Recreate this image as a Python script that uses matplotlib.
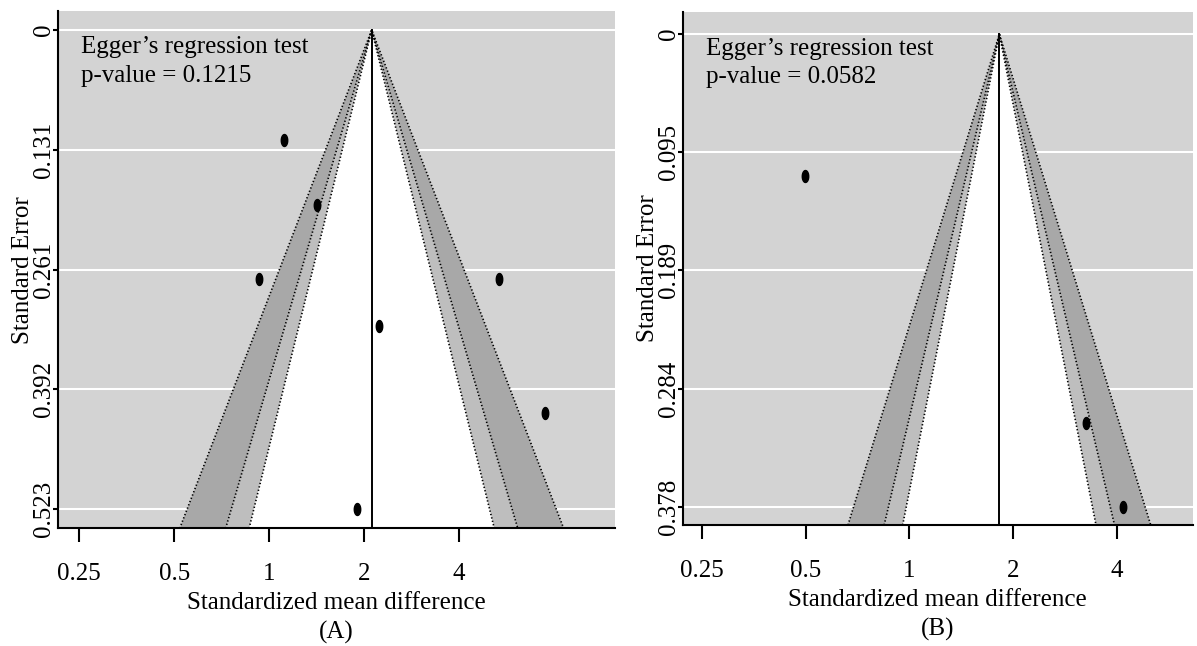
import numpy as np
import matplotlib
matplotlib.use("Agg")
import matplotlib.pyplot as plt
from matplotlib.path import Path

plt.rcParams['font.family'] = ['Liberation Serif', 'DejaVu Serif']
FS = 18

# ---------------- data ----------------
xtick_vals = [0.25, 0.5, 1, 2, 4]
xtick_labels = ["0.25", "0.5", "1", "2", "4"]

a_smd = [1.110, 1.419, 0.929, 5.33, 2.222, 7.50, 1.901]
a_se = [0.1204, 0.1906, 0.2720, 0.2720, 0.3230, 0.4176, 0.523]
a_est = 2.112
a_pval = "0.1215"
a_yticklabels = ["0", "0.131", "0.261", "0.392", "0.523"]
a_panel = "(A)"

b_smd = [0.498, 3.247, 4.17]
b_se = [0.1136, 0.311, 0.378]
b_est = 1.823
b_pval = "0.0582"
b_yticklabels = ["0", "0.095", "0.189", "0.284", "0.378"]
b_panel = "(B)"

z_levels = [2.576, 1.960, 1.645]          # 99%, 95%, 90%
z_colors = ['#a8a8a8', '#bebebe', 'white']
bg_color = '#d3d3d3'

# ---------------- figure ----------------
W, H = 1197, 646
fig = plt.figure(figsize=(W / 100, H / 100), dpi=100)

theta = np.linspace(0, 2 * np.pi, 60)
ell = Path(np.column_stack([0.27 * np.cos(theta), 0.5 * np.sin(theta)]))


def panel(rect_px, smd, se, est, pval, yticklabels, tag, xlim, ylim_ext):
    l, t, r, b = rect_px
    ax = fig.add_axes([l / W, 1 - b / H, (r - l) / W, (b - t) / H])
    wpx, hpx = r - l, b - t
    ax.set_facecolor(bg_color)
    ax.set_xscale('log', base=2)
    maxse = max(se)
    ytop = -ylim_ext[0] * maxse
    ybot = maxse * (1 + ylim_ext[1])
    ax.set_xlim(*xlim)
    ax.set_ylim(ybot, ytop)

    # funnel contours
    for z, c in zip(z_levels, z_colors):
        lo = est * np.exp(-z * ybot)
        hi = est * np.exp(z * ybot)
        ax.fill([est, lo, hi], [0, ybot, ybot], color=c, lw=0, zorder=1)
    for z in z_levels:
        lo = est * np.exp(-z * ybot)
        hi = est * np.exp(z * ybot)
        ax.plot([lo, est, hi], [ybot, 0, ybot], color='black', lw=1.2,
                ls=(0, (0.8, 1.3)), zorder=2)
    ax.plot([est, est], [0, ybot], color='black', lw=1.4, zorder=3)

    ax.plot(smd, se, ls='none', marker=ell, ms=8.6, color='black', zorder=4)

    # axes styling
    ax.set_axisbelow(True)
    yt = np.linspace(0, maxse, 5)
    ax.set_yticks(yt, yticklabels, rotation=90, va='center', fontsize=FS)
    ax.set_xticks(xtick_vals, xtick_labels, fontsize=FS)
    ax.minorticks_off()
    ax.grid(axis='y', color='white', lw=1.5)
    ax.grid(axis='x', visible=False)
    for s in ['top', 'right']:
        ax.spines[s].set_visible(False)
    for s in ['left', 'bottom']:
        ax.spines[s].set_linewidth(1.5)
    ax.tick_params(axis='x', length=10, width=1.5, pad=15)
    ax.tick_params(axis='y', length=3.3, width=1.5, pad=-0.9)

    ax.set_ylabel("Standard Error", fontsize=FS)
    ax.yaxis.set_label_coords(-24.5 / wpx, 0.5)
    ax.set_xlabel("Standardized mean difference", fontsize=FS)
    ax.xaxis.set_label_coords(0.5, -63.5 / hpx)
    ax.text(0.5, -110.5 / hpx, tag, transform=ax.transAxes, ha='center',
            va='baseline', fontsize=FS)

    ax.text(23.0 / wpx, 1 - 42.5 / hpx, "Egger\u2019s regression test",
            transform=ax.transAxes, ha='left', va='baseline', fontsize=FS)
    ax.text(23.0 / wpx, 1 - 71.0 / hpx, "p-value = " + pval,
            transform=ax.transAxes, ha='left', va='baseline', fontsize=FS)
    return ax


panel((58.3, 11, 614.5, 528.3), a_smd, a_se, a_est, a_pval, a_yticklabels,
      a_panel, (2 ** -2.221, 2 ** 3.635), (0.0396, 0.0398))
panel((683, 12, 1192.7, 525), b_smd, b_se, b_est, b_pval, b_yticklabels,
      b_panel, (2 ** -2.183, 2 ** 2.730), (0.0466, 0.0386))

fig.savefig("out.png", dpi=100)
